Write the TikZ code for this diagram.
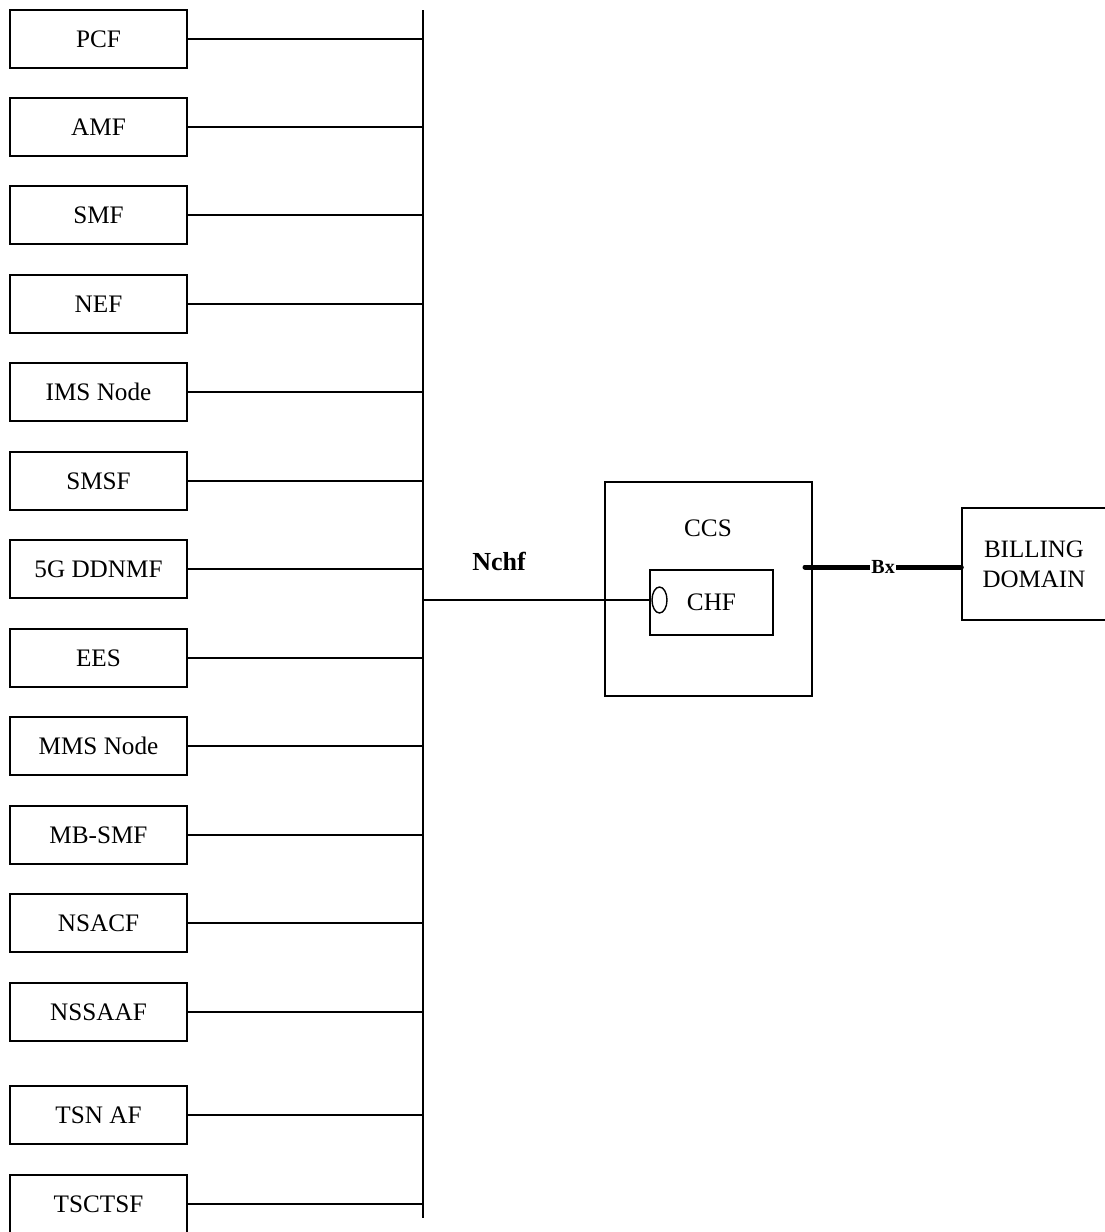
\documentclass[tikz,border=0pt]{standalone}
\usepackage{fontspec}
\setmainfont{Liberation Serif}
\usetikzlibrary{shapes,arrows,positioning,fit,backgrounds}

\begin{document}
\begin{tikzpicture}[x=0.5pt,y=-0.5pt,
        nfbox/.style={draw, line width=0.7pt, minimum width=88.5pt, minimum height=29pt,
            inner sep=0pt, font=\fontsize{12.6}{14}\selectfont},
        link/.style={line width=0.7pt}]
        \useasboundingbox (0,0) rectangle (1104,1232);

        % Service bus
        \coordinate (bustop) at (423,10);
        \coordinate (busbot) at (423,1218);
        \draw[link] (bustop) -- (busbot);

        % Network functions on the left
        \foreach \name/\lbl/\y in {pcf/PCF/39, amf/AMF/127, smf/SMF/215, nef/NEF/304,
                ims/IMS Node/392, smsf/SMSF/481, ddnmf/5G DDNMF/569, ees/EES/658,
                mms/MMS Node/746, mbsmf/MB-SMF/835, nsacf/NSACF/923, nssaaf/NSSAAF/1012,
                tsnaf/TSN AF/1115, tsctsf/TSCTSF/1204} {
            \node[nfbox] (\name) at (98.5,\y) {\lbl};
            \coordinate (bus-\name) at (423,\y);
            \draw[link] (\name.east) -- (bus-\name);
        }

        % Converged charging system
        \node[draw, line width=0.7pt, minimum width=103.5pt, minimum height=107pt] (ccs) at (708.5,589) {};
        \node[font=\fontsize{12.6}{14}\selectfont] (ccslabel) at (708,528) {CCS};
        \node[nfbox, minimum width=61.5pt, minimum height=32.5pt] (chf) at (711.5,602.5) {CHF};
        \node[draw, ellipse, line width=0.7pt, minimum width=7.5pt, minimum height=13pt, inner sep=0pt] (port) at (659.5,600) {};

        % Nchf interface
        \coordinate (busccs) at (423,600);
        \draw[link] (busccs) -- (port.west);
        \node[font=\bfseries\fontsize{13}{15}\selectfont] (nchf) at (499,561) {Nchf};

        % Billing domain and Bx
        \node[draw, line width=0.7pt, minimum width=72pt, minimum height=56pt, align=center,
            font=\fontsize{12.5}{15}\selectfont] (billing) at (1034,564) {BILLING\\DOMAIN};
        \coordinate (bxleft) at (805,567);
        \draw[line width=2.5pt, line cap=round] (bxleft) -- (billing.west |- bxleft)
            node[midway, fill=white, inner sep=0.5pt, font=\bfseries\fontsize{10}{11}\selectfont] (bx) {Bx};
    \end{tikzpicture}
\end{document}
